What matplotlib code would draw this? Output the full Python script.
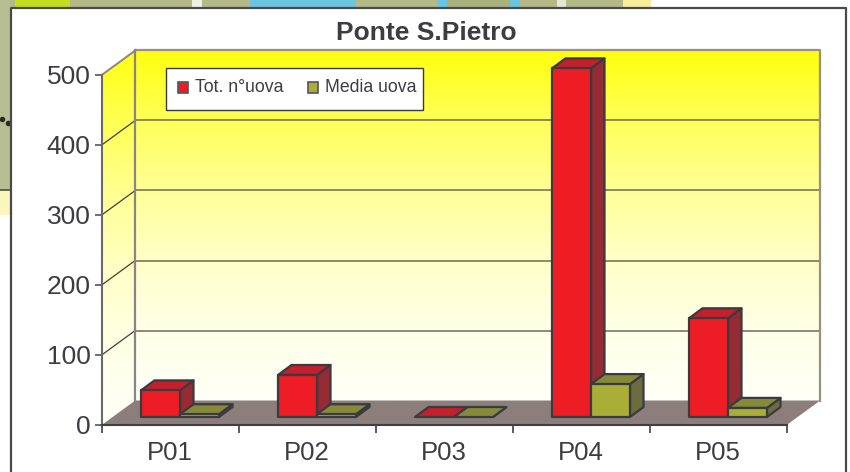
import numpy as np
import matplotlib
matplotlib.use("Agg")
import matplotlib.pyplot as plt
from matplotlib.patches import Polygon, Rectangle
from matplotlib.colors import LinearSegmentedColormap

# --- DATA ---
categories = ["P01", "P02", "P03", "P04", "P05"]
tot_uova = [38, 60, 0, 498, 141]
media_uova = [4, 4, 0, 47, 13]
y_ticks = [0, 100, 200, 300, 400, 500]
series_names = ["Tot. n°uova", "Media uova"]

# --- CONFIGURATION ---
W, H = 850, 472
LEFT, RIGHT, BOTTOM_Y, TOP_Y = 101.7, 786.7, 425, 75   # front plane, in pixels
DARK = "#3a3a40"
GREY = "#8c7f7b"
TEXT = "#3c3c42"
RED = ("#ee1c25", "#c4202c", "#962b33")
OLIVE = ("#a9ae37", "#878a38", "#6c6c3e")

plt.rcParams["font.family"] = ["Liberation Sans", "DejaVu Sans"]

fig = plt.figure(figsize=(W / 100, H / 100), dpi=100, facecolor="white")

# --- BACKDROP: the map the chart was pasted on ---
bg = fig.add_axes([0, 0, 1, 1], zorder=0)
bg.set_xlim(0, W)
bg.set_ylim(H, 0)
bg.axis("off")
strips = [(0, 10, 0, 190, "#b7bf92"), (0, 10, 191, 215, "#fbf6bd"),
          (10, 623, 0, 7, "#b3ba88"), (15, 70, 0, 7, "#c6dc20"),
          (192, 202, 0, 7, "#eef0e4"), (250, 356, 0, 7, "#6cc4df"),
          (437, 447, 0, 7, "#6cc4df"), (447, 510, 0, 7, "#a9b27e"),
          (510, 520, 0, 7, "#6cc4df"), (557, 566, 0, 7, "#e4e6d6"),
          (623, 651, 0, 7, "#f6ee9c")]
for x0, x1, y0, y1, c in strips:
    bg.add_patch(Rectangle((x0, y0), x1 - x0, y1 - y0, fc=c, ec="none"))
bg.plot([0, 10], [190, 190], color="#4d4d3c", lw=1.2)
bg.scatter([2, 8], [119, 123], s=9, color="#2b2b25")
bg.plot([11, 11, 846, 846], [H, 7.5, 7.5, H], color="#4a4a4e", lw=1.6)

# --- MAIN AXES: spans the front plane, everything drawn in data units ---
ax = fig.add_axes([LEFT / W, 1 - BOTTOM_Y / H, (RIGHT - LEFT) / W, (BOTTOM_Y - TOP_Y) / H], zorder=1)
ax.patch.set_alpha(0)
for s in ax.spines.values():
    s.set_visible(False)

# pixel offsets to data units
n = len(categories)
PX = n / (RIGHT - LEFT)
PY = 500 / (BOTTOM_Y - TOP_Y)
DX, DY = 33.5 * PX, 24.5 * PY    # wall depth

grad = LinearSegmentedColormap.from_list("wall", ["#fffff8", "#ffffe8", "#ffffc8", "#ffff98", "#ffff58", "#ffff10"])
ramp = np.linspace(0, 1, 256).reshape(-1, 1)


def gradient_fill(poly_pts, extent):
    poly = Polygon(poly_pts, closed=True, transform=ax.transData, fc="none", ec="none", clip_on=False)
    ax.add_patch(poly)
    im = ax.imshow(ramp, cmap=grad, origin="lower", aspect="auto", zorder=0, extent=extent)
    im.set_clip_box(fig.bbox)
    im.set_clip_path(poly)


# walls and floor
gradient_fill([(DX, DY), (n + DX, DY), (n + DX, 500 + DY), (DX, 500 + DY)], (DX, n + DX, DY, 500 + DY))
gradient_fill([(0, 0), (DX, DY), (DX, 500 + DY), (0, 500)], (0, DX, 0, 500 + DY))
ax.add_patch(Polygon([(0, 0), (n, 0), (n + DX, DY), (DX, DY)], fc=GREY, ec="none", zorder=1, clip_on=False))
ax.set_xlim(0, n)
ax.set_ylim(0, 500)

# gridlines
for t in y_ticks[1:-1]:
    ax.plot([DX, n + DX], [t + DY, t + DY], color="#6f6a55", lw=1.1, zorder=2, clip_on=False)
    ax.plot([0, DX], [t, t + DY], color="#3f3f3a", lw=0.9, zorder=2, clip_on=False)
ax.plot([DX, n + DX, n + DX], [500 + DY, 500 + DY, DY], color="#9a9080", lw=1.6, zorder=2, clip_on=False)
ax.plot([DX, DX], [DY, 500 + DY], color="#8c8484", lw=1.6, zorder=2, clip_on=False)
ax.plot([0, DX], [500, 500 + DY], color="#8c8484", lw=1.4, zorder=2, clip_on=False)
ax.plot([0, 0], [0, 500], color="#6a6a6a", lw=1.5, zorder=3, clip_on=False)
ax.plot([0, n], [0, 0], color="#3f3f44", lw=1.5, zorder=3, clip_on=False)


def bar3d(x0, width, value, cols, z):
    y0 = 8 * PY                  # bars stand a little way back on the floor
    ox, oy = 13.5 * PX, 10 * PY
    kw = dict(ec=DARK, lw=1.6, joinstyle="round", zorder=z, clip_on=False)
    x1 = x0 + width
    y1 = y0 + value
    ax.add_patch(Polygon([(x1, y0), (x1 + ox, y0 + oy), (x1 + ox, y1 + oy), (x1, y1)], fc=cols[2], **kw))
    ax.add_patch(Polygon([(x0, y1), (x1, y1), (x1 + ox, y1 + oy), (x0 + ox, y1 + oy)], fc=cols[1], **kw))
    if value > 0:
        ax.add_patch(Rectangle((x0, y0), width, value, fc=cols[0], **kw))


bar_w = 39 * PX
for i in range(n):
    start = i + 39.3 * PX
    bar3d(start, bar_w, tot_uova[i], RED, 4)
    bar3d(start + bar_w, bar_w, media_uova[i], OLIVE, 5)

# axes ticks and labels
ax.set_yticks(y_ticks)
ax.set_xticks(np.arange(n + 1))
ax.set_xticklabels([])
ax.tick_params(axis="y", length=5, width=1.2, color="#55555a", labelsize=19, labelcolor=TEXT, pad=3)
ax.tick_params(axis="x", length=6, width=1.2, color="#3f3f44")
for i, c in enumerate(categories):
    ax.text(i + 0.5, -28 * PY, c, ha="center", va="center", fontsize=18.5, color=TEXT, clip_on=False)

fig.text(426.5 / W, 1 - 33 / H, "Ponte S.Pietro", ha="center", va="center", fontsize=19,
         fontweight="bold", color=TEXT)

# --- LEGEND: built by hand to sit in the same place ---
top = fig.add_axes([0, 0, 1, 1], zorder=2)
top.set_xlim(0, W)
top.set_ylim(H, 0)
top.axis("off")
top.add_patch(Rectangle((166.5, 67.5), 257, 42, fc="white", ec=DARK, lw=1.0))
for sx, tx, col, name in zip([178, 308], [195, 325], [RED[0], OLIVE[0]], series_names):
    top.add_patch(Rectangle((sx, 82), 10.5, 10.5, fc=col, ec="#55555a", lw=1.2))
    top.text(tx, 87, name, ha="left", va="center", fontsize=12.7, color=TEXT)

fig.savefig("out.png", dpi=100)
